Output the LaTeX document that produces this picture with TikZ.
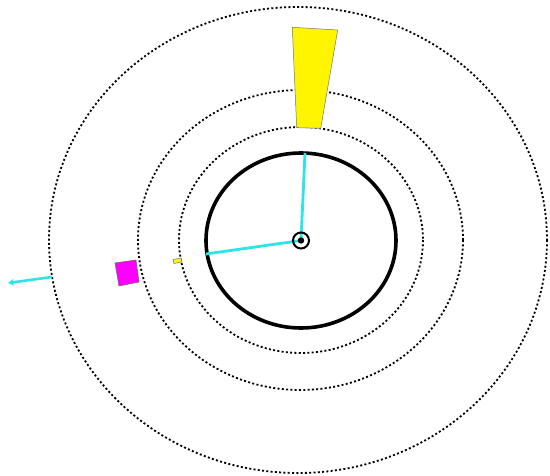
\documentclass[tikz,border=0pt]{standalone}
\usetikzlibrary{arrows.meta}
\definecolor{cyanline}{RGB}{45,228,232}
\definecolor{magbox}{RGB}{255,0,255}
\definecolor{yelbox}{RGB}{255,245,0}
\tikzset{
  orbit/.style={draw=black, line width=1.8pt, dash pattern=on 2pt off 2.3pt},
  ray/.style={draw=cyanline, line width=2.8pt},
}
\begin{document}
\begin{tikzpicture}[x=1pt,y=-1pt]
\useasboundingbox (0,0) rectangle (550,476);
\coordinate (c) at (301,240.5);
% dotted orbits
\draw[orbit] (298,240) ellipse [x radius=249, y radius=233];
\draw[orbit] (300.5,240) ellipse [x radius=162.5, y radius=150];
\draw[orbit] (301,240) ellipse [x radius=122, y radius=113];
% thick circle
\draw[line width=3.6pt] (c) ellipse [x radius=95, y radius=87.5];
% yellow trapezoid
\filldraw[fill=yelbox, draw=black!55, line width=0.5pt] (292.3,27.3) -- (337.7,30) -- (320.7,128.3) -- (296.7,127.7) -- cycle;
% magenta square
\filldraw[fill=magbox, draw=black!60, line width=0.5pt] (115,263) -- (136,260) -- (139,282) -- (119,286) -- cycle;
% small yellow rectangle
\filldraw[fill=yelbox, draw=black!55, line width=0.5pt] (173,259.5) -- (181,258) -- (182,262) -- (174,263.5) -- cycle;
% cyan rays
\coordinate (top) at (305,153);
\coordinate (left) at (206,254);
\draw[ray] (c) -- (top);
\draw[ray] (c) -- (left);
\coordinate (a1) at (52,277);
\coordinate (a2) at (8,283);
\draw[ray, line width=2.6pt, -{Stealth[length=6pt,width=7pt]}] (a1) -- (a2);
% center marker
\draw[line width=2pt] (c) circle (8);
\fill (c) circle (3.2);
\end{tikzpicture}
\end{document}
